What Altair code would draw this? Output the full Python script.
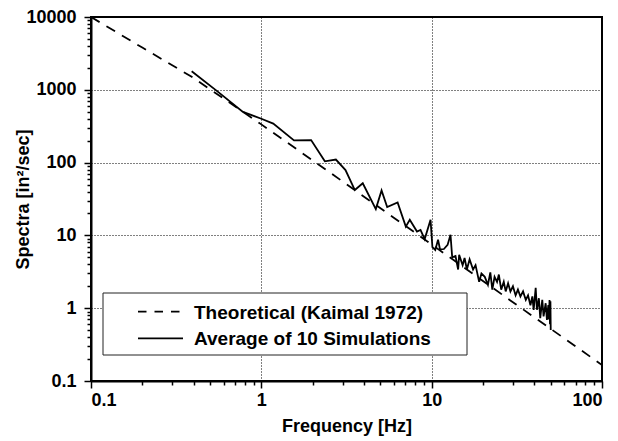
import altair as alt
import pandas as pd

# ---- data ----
series_names = ["Theoretical (Kaimal 1972)", "Average of 10 Simulations"]

theory_freq = [0.1, 0.2, 0.39, 1.0, 2.64, 10.0, 28.7, 100.0]
theory_spec = [10000, 3800, 1510, 335, 68, 7.5, 1.3, 0.166]

sim_freq = [0.39, 0.55, 0.78, 1.0, 1.175, 1.555, 1.96, 2.36, 2.74, 3.12, 3.54,
            3.94, 4.70, 5.08, 5.48, 6.31, 7.05, 7.44, 8.2, 8.6, 9.1, 9.85,
            10.1, 10.5, 10.9, 11.2, 11.8, 12.4, 12.9, 13.2, 13.8, 14.3, 14.5,
            15.2, 15.6, 16.1, 16.7, 17.5, 18.1, 19.0, 19.6, 20.5, 21.4, 22.1,
            22.7, 23.4, 24.2, 24.8, 25.6, 26.5, 27.2, 28.1, 29.0, 30.0, 31.1,
            32.1, 33.2, 34.4, 35.7, 36.8, 38.0, 39.0, 39.7, 40.8, 41.5, 42.6,
            43.4, 44.6, 45.4, 46.7, 47.5, 48.4, 48.8, 49.2, 49.5, 49.8, 50.0]
sim_spec = [1800, 960, 497, 400, 343, 202, 204, 104, 110, 79, 42,
            52, 23, 41.5, 24.5, 28.4, 13.2, 16.4, 11.3, 11.9, 8.9, 16.4,
            6.9, 6.3, 8.7, 6.4, 6.5, 7.4, 10.2, 5.0, 5.2, 3.4, 5.4,
            3.9, 4.9, 3.4, 4.7, 3.4, 3.9, 2.3, 3.0, 2.7, 2.1, 3.1,
            1.8, 2.7, 2.3, 2.9, 1.8, 2.3, 1.7, 2.2, 1.7, 2.0, 1.5,
            1.8, 1.45, 1.7, 1.3, 1.5, 1.1, 1.45, 0.95, 1.9, 0.95, 1.37,
            0.73, 1.3, 0.77, 1.17, 0.69, 1.1, 0.7, 1.3, 0.6, 1.25, 0.5]

x_decades = [0.1, 1, 10, 100]
y_decades = [0.1, 1, 10, 100, 1000, 10000]
minor_mults = [2, 3, 4, 5, 6, 7, 8, 9]

FONT = "Liberation Sans"


def tick_values(decades):
    vals = []
    for d in decades:
        vals.append(d)
        if d != decades[-1]:
            vals.extend([m * d for m in minor_mults])
    return vals


def decade_test(decades):
    return "indexof([" + ",".join(repr(float(d)) for d in decades) + "], datum.value) >= 0"


def make_axis(decades, title, **kw):
    test = decade_test(decades)
    return alt.Axis(
        values=tick_values(decades),
        format="~g",
        labelExpr=f"{test} ? datum.label : ''",
        labelOverlap=False,
        labelFont=FONT, labelFontSize=18, labelFontWeight="bold", labelColor="black",
        tickSize={"condition": {"test": test, "value": 7}, "value": 4},
        tickColor="black", tickWidth=1.5,
        grid=True, gridColor="black", gridDash=[1, 2], gridWidth=1,
        gridOpacity={"condition": {"test": test, "value": 1}, "value": 0},
        domainColor="black", domainWidth=2,
        title=title, titleFont=FONT, titleFontSize=18, titleFontWeight="bold",
        titleColor="black",
        **kw,
    )


df_theory = pd.DataFrame({"f": theory_freq, "S": theory_spec,
                          "series": series_names[0]})
df_sim = pd.DataFrame({"f": sim_freq, "S": sim_spec, "series": series_names[1]})

W, H = 511, 364

x_enc = alt.X("f:Q", scale=alt.Scale(type="log", domain=[0.1, 100], nice=False),
              axis=make_axis(x_decades, "Frequency [Hz]", labelPadding=3,
                             titleX=W / 2, titleY=50, titleBaseline="alphabetic"))
y_enc = alt.Y("S:Q", scale=alt.Scale(type="log", domain=[0.1, 10000], nice=False),
              axis=make_axis(y_decades, "Spectra [in²/sec]", labelPadding=8,
                             titleX=-63, titleY=H / 2, titleBaseline="alphabetic",
                             titleAngle=270, titleAlign="center"))

theory = alt.Chart(df_theory).mark_line(
    color="black", strokeWidth=1.8, strokeDash=[10, 8], clip=True
).encode(x=x_enc, y=y_enc)

sim = alt.Chart(df_sim).mark_line(
    color="black", strokeWidth=1.8, clip=True
).encode(x="f:Q", y="S:Q")

one = pd.DataFrame({"k": [0]})
legend_box = alt.Chart(one).mark_rect(
    fill="white", stroke="#222", strokeWidth=1
).encode(x=alt.value(12), x2=alt.value(376), y=alt.value(276), y2=alt.value(338))

row_y = [294.7, 321.3]
leg_layers = [legend_box]
for name, yy, dash in zip(series_names, row_y, [[8.5, 8], [1, 0]]):
    leg_layers.append(
        alt.Chart(one).mark_rule(color="black", strokeWidth=1.8, strokeDash=dash)
        .encode(x=alt.value(47), x2=alt.value(92), y=alt.value(yy))
    )
    leg_layers.append(
        alt.Chart(one).mark_text(align="left", baseline="middle", font=FONT,
                                 fontSize=19, fontWeight="bold", color="black")
        .encode(x=alt.value(103), y=alt.value(yy + 1), text=alt.value(name))
    )

chart = alt.layer(theory, sim, *leg_layers).properties(
    width=W, height=H,
    autosize=alt.AutoSizeParams(type="none"),
    padding={"left": 91, "top": 17, "right": 16, "bottom": 60},
    background="white",
).configure_view(stroke="black", strokeWidth=2)

chart.save("out.html", embed_options={"renderer": "svg", "actions": False})
